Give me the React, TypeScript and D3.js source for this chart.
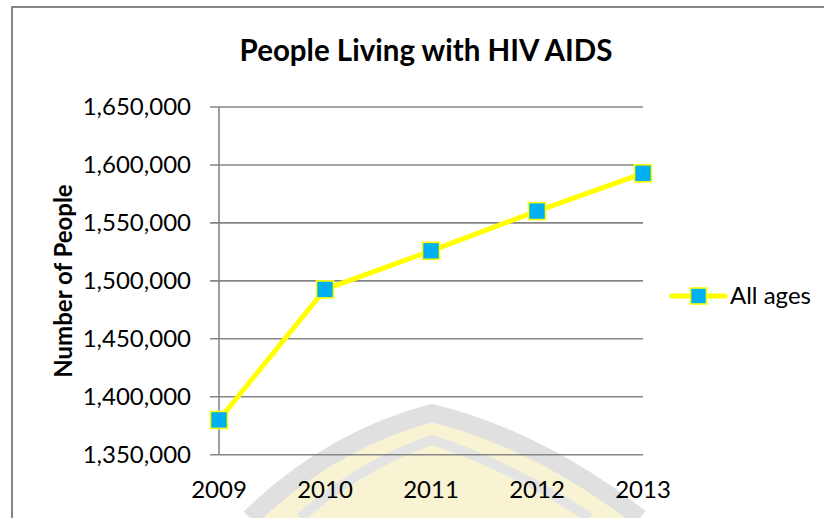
import React from "react";
import * as d3 from "d3";

const years = ["2009", "2010", "2011", "2012", "2013"];
const allAges = [1380000, 1492600, 1525900, 1560200, 1592800];
const yTicks = [1350000, 1400000, 1450000, 1500000, 1550000, 1600000, 1650000];
const title = "People Living with HIV AIDS";
const yTitle = "Number of People";
const seriesName = "All ages";

const FONT = "Lato, 'Open Sans', sans-serif";

export default function App() {
  const W = 824, H = 518;
  const x = d3.scalePoint<string>().domain(years).range([219, 643]);
  const y = d3.scaleLinear().domain([1350000, 1650000]).range([454.7, 107]);
  const fmt = d3.format(",");
  const line = d3.line<number>().x((_, i) => x(years[i]) as number).y((d) => y(d));
  const pts = allAges.map((v, i) => ({ x: x(years[i]) as number, y: y(v) }));
  const ms = 17;
  const legY = 296;

  return (
    <svg width={W} height={H} style={{ position: "absolute", left: 0, top: 0, background: "#fff" }}>
      {/* faint watermark */}
      <g opacity={0.55}>
        <path d="M250,518 Q330,440 432,413 Q540,440 640,518 Z" fill="#f3ecb0" />
        <path d="M250,518 Q330,440 432,413 Q540,440 640,518" fill="none" stroke="#c8c8c8" strokeWidth={18} />
        <path d="M300,518 Q360,465 432,440 Q510,465 590,518" fill="none" stroke="#cfcfcf" strokeWidth={10} />
      </g>
      {/* outer border */}
      <path d="M12,518 L12,7 L824,7" fill="none" stroke="#868686" strokeWidth={2} />
      {/* title */}
      <text x={426} y={61} textAnchor="middle" fontFamily={FONT} fontWeight="bold" fontSize={29.5} fill="#000">
        {title}
      </text>
      {/* gridlines */}
      {yTicks.map((t) => (
        <line key={t} x1={210} x2={643} y1={y(t)} y2={y(t)} stroke="#868686" strokeWidth={1.6} />
      ))}
      {/* y axis line */}
      <line x1={219} x2={219} y1={y(1650000)} y2={y(1350000)} stroke="#868686" strokeWidth={1.6} />
      {/* y tick labels */}
      {yTicks.map((t) => (
        <text key={t} x={191} y={y(t)} dy="0.35em" textAnchor="end" fontFamily={FONT} fontSize={24} fill="#000">
          {fmt(t)}
        </text>
      ))}
      {/* x labels */}
      {years.map((yr) => (
        <text key={yr} x={x(yr) as number} y={498} textAnchor="middle" fontFamily={FONT} fontSize={24} fill="#000">
          {yr}
        </text>
      ))}
      {/* y title */}
      <text
        transform={`translate(72,281) rotate(-90)`}
        textAnchor="middle"
        fontFamily={FONT}
        fontWeight="bold"
        fontSize={24}
        fill="#000"
      >
        {yTitle}
      </text>
      {/* series */}
      <path d={line(allAges) || ""} fill="none" stroke="#FFFF00" strokeWidth={5} strokeLinejoin="round" />
      {pts.map((p, i) => (
        <rect key={i} x={p.x - ms / 2} y={p.y - ms / 2} width={ms} height={ms} fill="#00B0F0" stroke="#FFFF00" strokeWidth={1.6} />
      ))}
      {/* legend */}
      <line x1={672} x2={725} y1={legY} y2={legY} stroke="#FFFF00" strokeWidth={5} strokeLinecap="round" />
      <rect x={698.5 - 8} y={legY - 8} width={16} height={16} fill="#00B0F0" stroke="#FFFF00" strokeWidth={1.6} />
      <text x={730} y={legY} dy="0.35em" fontFamily={FONT} fontSize={24} fill="#000">
        {seriesName}
      </text>
    </svg>
  );
}
